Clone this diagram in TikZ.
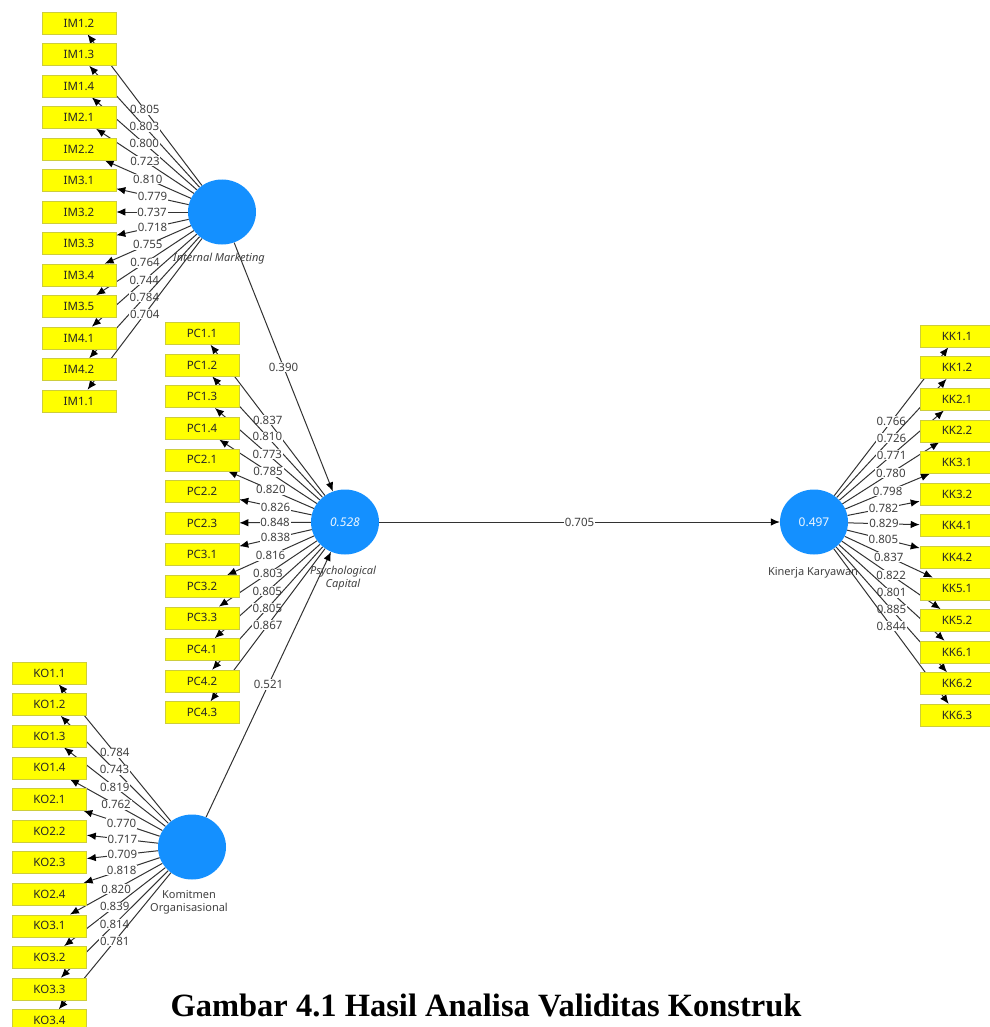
\documentclass[tikz,border=0pt]{standalone}
\usepackage{fontspec}
\setmainfont{Noto Sans}
\newfontfamily\capfont{Liberation Serif}
\usetikzlibrary{shapes.geometric,arrows.meta,backgrounds}
\definecolor{lvc}{RGB}{20,144,255}
\definecolor{indc}{RGB}{255,255,0}
\definecolor{indb}{RGB}{205,205,60}
\definecolor{lnc}{RGB}{50,50,50}
\definecolor{txtc}{RGB}{64,64,64}
\begin{document}
\begin{tikzpicture}[x=1pt,y=-1pt,
  box/.style={rectangle,fill=indc,draw=indb,line width=0.6pt,minimum width=74pt,minimum height=22pt,inner sep=0pt,font=\fontsize{11.5}{13}\selectfont,text=black!85},
  lv/.style={ellipse,fill=lvc,minimum width=68pt,minimum height=65pt,inner sep=0pt,text=white!92!lvc,font=\fontsize{12}{14}\selectfont},
  conn/.style={draw=lnc,line width=1pt,-{Latex[length=9pt,width=7.5pt,fill=black,color=black]}},
  lbl/.style={fill=white,inner sep=0.8pt,text=txtc,font=\fontsize{11.5}{13}\selectfont},
  cname/.style={text=txtc,font=\fontsize{11}{13}\selectfont,align=center}]
\useasboundingbox (0,0) rectangle (989,1027);

% latent variables
\node[lv] (IM) at (222,212) {};
\node[lv] (PC) at (345,522) {\itshape 0.528};
\node[lv] (KO) at (192,847) {};
\node[lv] (KK) at (814,522) {0.497};

\node[cname,font=\fontsize{11}{13}\selectfont\itshape] (IMn) at (219,259) {Internal Marketing};
\node[cname,font=\fontsize{11}{13}\selectfont\itshape] (PCn) at (343,578) {Psychological\\Capital};
\node[cname] (KOn) at (189,902) {Komitmen\\Organisasional};
\node[cname] (KKn) at (813,573) {Kinerja Karyawan};

% indicators
\foreach \t [count=\i from 0] in {IM1.2,IM1.3,IM1.4,IM2.1,IM2.2,IM3.1,IM3.2,IM3.3,IM3.4,IM3.5,IM4.1,IM4.2,IM1.1}
  \node[box] (im\i) at (79,23+31.5*\i) {\t};
\foreach \t [count=\i from 0] in {PC1.1,PC1.2,PC1.3,PC1.4,PC2.1,PC2.2,PC2.3,PC3.1,PC3.2,PC3.3,PC4.1,PC4.2,PC4.3}
  \node[box] (pc\i) at (202,333.5+31.6*\i) {\t};
\foreach \t [count=\i from 0] in {KO1.1,KO1.2,KO1.3,KO1.4,KO2.1,KO2.2,KO2.3,KO2.4,KO3.1,KO3.2,KO3.3,KO3.4}
  \node[box] (ko\i) at (49.5,673+31.6*\i) {\t};
\foreach \t [count=\i from 0] in {KK1.1,KK1.2,KK2.1,KK2.2,KK3.1,KK3.2,KK4.1,KK4.2,KK5.1,KK5.2,KK6.1,KK6.2,KK6.3}
  \node[box] (kk\i) at (957,336+31.6*\i) {\t};

% caption
\node[font=\capfont\bfseries\fontsize{32.5}{36}\selectfont] (cap) at (486,1005) {Gambar 4.1 Hasil Analisa Validitas Konstruk};

\begin{pgfonlayer}{background}
\foreach \v [count=\i from 0] in {0.805,0.803,0.800,0.723,0.810,0.779,0.737,0.718,0.755,0.764,0.744,0.784,0.704}
  \draw[conn] (IM) -- node[lbl]{\v} (im\i);
\foreach \v [count=\i from 0] in {0.837,0.810,0.773,0.785,0.820,0.826,0.848,0.838,0.816,0.803,0.805,0.805,0.867}
  \draw[conn] (PC) -- node[lbl]{\v} (pc\i);
\foreach \v [count=\i from 0] in {0.784,0.743,0.819,0.762,0.770,0.717,0.709,0.818,0.820,0.839,0.814,0.781}
  \draw[conn] (KO) -- node[lbl]{\v} (ko\i);
\foreach \v [count=\i from 0] in {0.766,0.726,0.771,0.780,0.798,0.782,0.829,0.805,0.837,0.822,0.801,0.885,0.844}
  \draw[conn] (KK) -- node[lbl]{\v} (kk\i);
\draw[conn] (IM) -- node[lbl]{0.390} (PC);
\draw[conn] (KO) -- node[lbl]{0.521} (PC);
\draw[conn] (PC) -- node[lbl]{0.705} (KK);
\end{pgfonlayer}
\end{tikzpicture}
\end{document}
